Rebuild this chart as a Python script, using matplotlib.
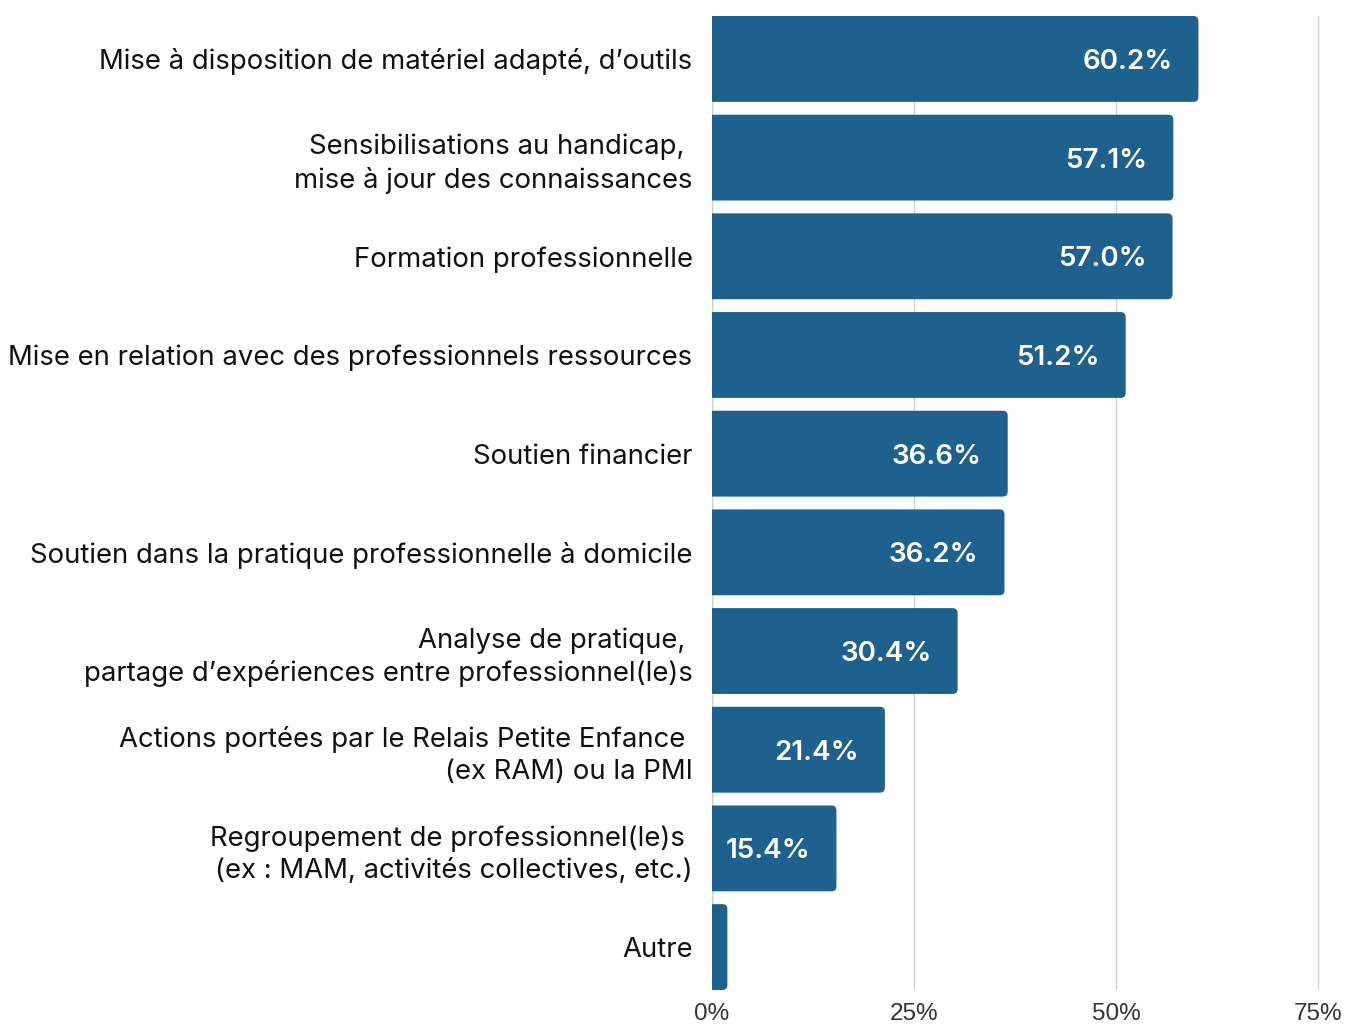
import matplotlib.pyplot as plt
from matplotlib.patches import FancyBboxPatch

categories = [
    "Mise à disposition de matériel adapté, d’outils",
    "Sensibilisations au handicap, \nmise à jour des connaissances",
    "Formation professionnelle",
    "Mise en relation avec des professionnels ressources",
    "Soutien financier",
    "Soutien dans la pratique professionnelle à domicile",
    "Analyse de pratique, \npartage d’expériences entre professionnel(le)s",
    "Actions portées par le Relais Petite Enfance \n(ex RAM) ou la PMI",
    "Regroupement de professionnel(le)s \n(ex : MAM, activités collectives, etc.)",
    "Autre",
]
values = [60.2, 57.1, 57.0, 51.2, 36.6, 36.2, 30.4, 21.4, 15.4, 1.9]
show_label = [True] * 9 + [False]
ticks = [0, 25, 50, 75]
tick_labels = ["0%", "25%", "50%", "75%"]

bar_color = "#1f618e"
bar_h = 0.87

fig = plt.figure(figsize=(13.45, 10.28), dpi=100)
ax = fig.add_axes([712 / 1345, 1 - 990 / 1028, (1320 - 712) / 1345, (990 - 16) / 1028])

n = len(categories)
ax.set_xlim(0, 75.25)
ax.set_ylim(n - 1 + bar_h / 2, -bar_h / 2)

# px per data unit, used to keep the corner rounding circular
px_x = ax.get_position().width * 1345 / 75.25
px_y = ax.get_position().height * 1028 / (n - 1 + bar_h)

for i, v in enumerate(values):
    p = FancyBboxPatch((-2, i - bar_h / 2), v + 2, bar_h,
                       boxstyle="round,pad=0,rounding_size=%f" % (5 / px_x),
                       mutation_aspect=px_x / px_y,
                       facecolor=bar_color, edgecolor="none", zorder=3)
    ax.add_patch(p)
    if show_label[i]:
        ax.annotate(f"{v:.1f}%", (v, i), xytext=(-26, 0), textcoords="offset pixels",
                    ha="right", va="center_baseline", color="white", fontsize=20,
                    fontweight="semibold", family="Inter", zorder=4)

ax.set_xticks(ticks)
ax.set_xticklabels(tick_labels, fontsize=17.5, color="#333333", family="Liberation Sans")
ax.tick_params(axis="x", length=0, pad=9)
ax.set_yticks(range(n))
ax.set_yticklabels(categories, fontsize=19.8, family="Inter", color="#111111",
                   linespacing=1.3)
ax.tick_params(axis="y", length=0, pad=14)
ax.grid(axis="x", color="#d0d0d0", linewidth=1, zorder=0)
for s in ax.spines.values():
    s.set_visible(False)
ax.axvline(0, color="#d0d0d0", linewidth=1, zorder=1)

fig.savefig("out.png", dpi=100)
